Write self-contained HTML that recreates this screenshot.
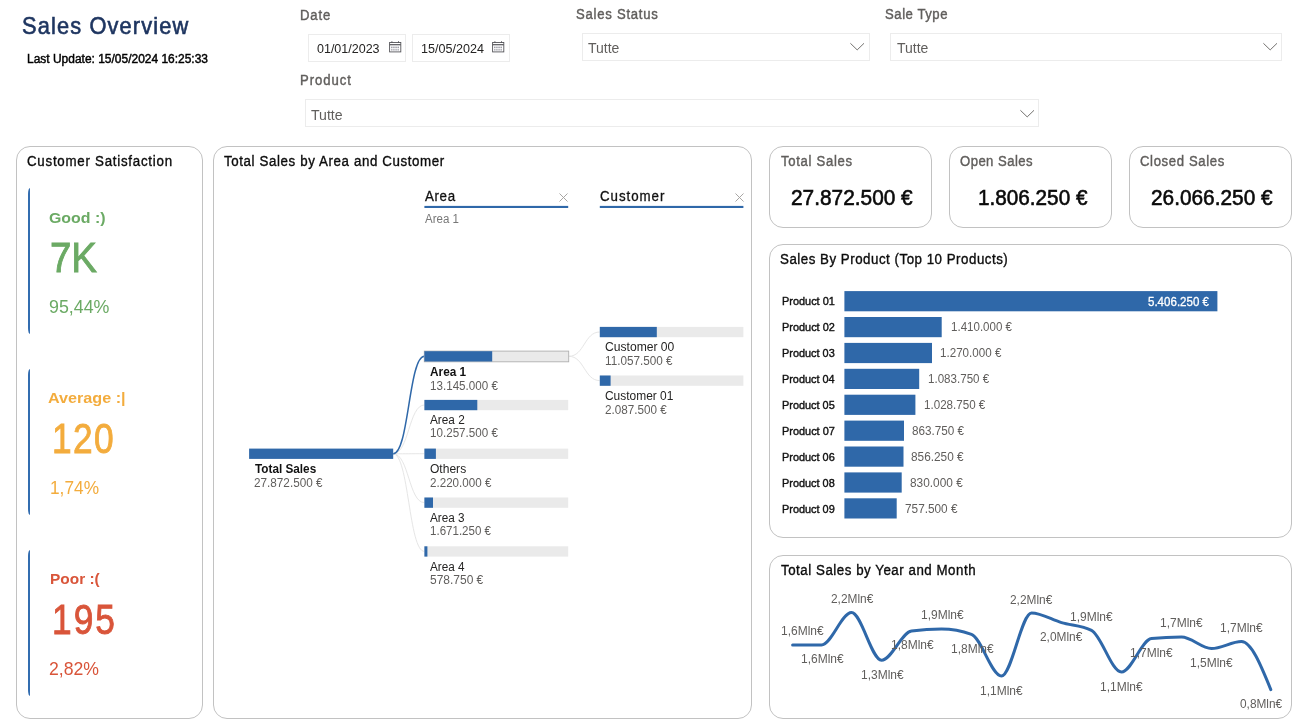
<!DOCTYPE html>
<html lang="it">
<head>
<meta charset="utf-8">
<title>Sales Overview</title>
<style>
  html,body{margin:0;padding:0;background:#fff;}
  body{width:1301px;height:725px;overflow:hidden;position:relative;font-family:"Liberation Sans",Arial,sans-serif;}
  #page{position:absolute;left:0;top:0;width:1301px;height:725px;overflow:hidden;background:#fff;}
  .t{position:absolute;white-space:nowrap;line-height:1;transform-origin:0 0;margin:0;padding:0;font-weight:400;}
  .panel{position:absolute;box-sizing:border-box;border:1px solid #C2C2C2;border-radius:14px;background:#fff;}
  .fbox{position:absolute;box-sizing:border-box;border:1px solid #ECECEC;background:#fff;}
  .ico{position:absolute;overflow:visible;}
  .acc{position:absolute;width:2px;background:#336DB0;border-radius:2px 0 0 2px / 6px 0 0 6px;}
  svg.lay{position:absolute;left:0;top:0;overflow:visible;pointer-events:none;}
</style>
</head>
<body>
<div id="page">
  <header>
    <span class="t" style="left:21.90px;top:14.70px;font-size:23.2px;color:#1E3560;letter-spacing:1.216px;-webkit-text-stroke:0.6px #1E3560;transform:scaleX(0.9400);">Sales Overview</span>
    <span class="t" style="left:27.46px;top:52.80px;font-size:12.5px;color:#000;-webkit-text-stroke:0.45px #000;transform:scaleX(0.9575);">Last Update: 15/05/2024 16:25:33</span>
  </header>
  <section class="filters">
    <div class="fbox" style="left:308px;top:34px;width:98px;height:28px;"></div>
    <div class="fbox" style="left:412px;top:34px;width:98px;height:28px;"></div>
    <div class="fbox" style="left:582px;top:33px;width:288px;height:28px;"></div>
    <div class="fbox" style="left:890px;top:33px;width:392px;height:28px;"></div>
    <div class="fbox" style="left:305px;top:99px;width:734px;height:28px;"></div>
    <svg class="ico" style="left:388.6px;top:40.7px" width="13" height="12" viewBox="0 0 13 12"><g fill="none" stroke="#55555A" stroke-width="0.9"><rect x="0.6" y="1.5" width="11.2" height="9.4"/><path d="M0.6 3.7h11.2" stroke-width="1.2"/><path d="M2.9 0.3v1.6M9.5 0.3v1.6" stroke-width="1"/></g><g fill="#7A7A86"><rect x="2.3" y="5.6" width="1.1" height="1.6"/><rect x="4.4" y="5.6" width="1.1" height="1.6"/><rect x="6.5" y="5.6" width="1.1" height="1.6"/><rect x="8.6" y="5.6" width="1.1" height="1.6"/><rect x="2.3" y="8.2" width="1.1" height="1.3"/><rect x="4.4" y="8.2" width="1.1" height="1.3"/><rect x="6.5" y="8.2" width="1.1" height="1.3"/><rect x="8.6" y="8.2" width="1.1" height="1.3"/></g></svg>
    <svg class="ico" style="left:492.2px;top:40.7px" width="13" height="12" viewBox="0 0 13 12"><g fill="none" stroke="#55555A" stroke-width="0.9"><rect x="0.6" y="1.5" width="11.2" height="9.4"/><path d="M0.6 3.7h11.2" stroke-width="1.2"/><path d="M2.9 0.3v1.6M9.5 0.3v1.6" stroke-width="1"/></g><g fill="#7A7A86"><rect x="2.3" y="5.6" width="1.1" height="1.6"/><rect x="4.4" y="5.6" width="1.1" height="1.6"/><rect x="6.5" y="5.6" width="1.1" height="1.6"/><rect x="8.6" y="5.6" width="1.1" height="1.6"/><rect x="2.3" y="8.2" width="1.1" height="1.3"/><rect x="4.4" y="8.2" width="1.1" height="1.3"/><rect x="6.5" y="8.2" width="1.1" height="1.3"/><rect x="8.6" y="8.2" width="1.1" height="1.3"/></g></svg>
    <svg class="ico" style="left:850px;top:43px" width="15" height="8" viewBox="0 0 15 8"><path d="M0.4 0.3L7.2 6.9L14 0.3" fill="none" stroke="#6B6967" stroke-width="0.95"/></svg>
    <svg class="ico" style="left:1262.6px;top:43px" width="15" height="8" viewBox="0 0 15 8"><path d="M0.4 0.3L7.2 6.9L14 0.3" fill="none" stroke="#6B6967" stroke-width="0.95"/></svg>
    <svg class="ico" style="left:1019.6px;top:109.6px" width="15" height="8" viewBox="0 0 15 8"><path d="M0.4 0.3L7.2 6.9L14 0.3" fill="none" stroke="#6B6967" stroke-width="0.95"/></svg>
    <span class="t" style="left:299.77px;top:9.00px;font-size:13.8px;color:#605E5C;letter-spacing:0.871px;-webkit-text-stroke:0.4px #605E5C;transform:scaleX(0.9500);">Date</span>
    <span class="t" style="left:576.38px;top:8.20px;font-size:13.8px;color:#605E5C;letter-spacing:0.788px;-webkit-text-stroke:0.4px #605E5C;transform:scaleX(0.9500);">Sales Status</span>
    <span class="t" style="left:885.18px;top:8.20px;font-size:13.8px;color:#605E5C;letter-spacing:0.586px;-webkit-text-stroke:0.4px #605E5C;transform:scaleX(0.9500);">Sale Type</span>
    <span class="t" style="left:299.77px;top:74.00px;font-size:13.8px;color:#605E5C;letter-spacing:1.021px;-webkit-text-stroke:0.4px #605E5C;transform:scaleX(0.9500);">Product</span>
    <span class="t" style="left:317.15px;top:42.90px;font-size:12.5px;color:#252423;transform:scaleX(0.9999);">01/01/2023</span>
    <span class="t" style="left:420.64px;top:42.90px;font-size:12.5px;color:#252423;transform:scaleX(1.0056);">15/05/2024</span>
    <span class="t" style="left:587.78px;top:41.00px;font-size:14.5px;color:#605E5C;transform:scaleX(0.9656);">Tutte</span>
    <span class="t" style="left:896.78px;top:41.00px;font-size:14.5px;color:#605E5C;transform:scaleX(0.9656);">Tutte</span>
    <span class="t" style="left:311.38px;top:108.00px;font-size:14.5px;color:#605E5C;transform:scaleX(0.9719);">Tutte</span>
  </section>
  <section class="panel" style="left:16px;top:146px;width:187px;height:573px;"></section>
  <div class="acc" style="left:28px;top:188px;height:146px"></div>
  <div class="acc" style="left:28px;top:369px;height:146px"></div>
  <div class="acc" style="left:28px;top:550px;height:146px"></div>
  <div class="cards">
    <span class="t" style="left:27.14px;top:154.00px;font-size:14px;color:#0C0C0C;letter-spacing:0.786px;-webkit-text-stroke:0.35px #0C0C0C;transform:scaleX(0.9500);">Customer Satisfaction</span>
    <span class="t" style="left:48.70px;top:210.10px;font-size:15.5px;color:#6BAA64;font-weight:700;transform:scaleX(1.0251);">Good :)</span>
    <span class="t" style="left:49.81px;top:237.30px;font-size:42px;color:#6BAA64;-webkit-text-stroke:0.9px #6BAA64;transform:scaleX(0.9147);">7K</span>
    <span class="t" style="left:48.86px;top:297.20px;font-size:19px;color:#6BAA64;transform:scaleX(0.9383);">95,44%</span>
    <span class="t" style="left:48.15px;top:389.50px;font-size:15.5px;color:#F3AC3D;font-weight:700;transform:scaleX(1.0435);">Average :|</span>
    <span class="t" style="left:51.57px;top:417.90px;font-size:42px;color:#F3AC3D;letter-spacing:1.586px;-webkit-text-stroke:0.9px #F3AC3D;transform:scaleX(0.8400);">120</span>
    <span class="t" style="left:49.92px;top:478.00px;font-size:19px;color:#F3AC3D;transform:scaleX(0.9094);">1,74%</span>
    <span class="t" style="left:49.54px;top:570.60px;font-size:15.5px;color:#D9553A;font-weight:700;transform:scaleX(0.9952);">Poor :(</span>
    <span class="t" style="left:51.97px;top:598.80px;font-size:42px;color:#D9553A;letter-spacing:2.450px;-webkit-text-stroke:0.9px #D9553A;transform:scaleX(0.8400);">195</span>
    <span class="t" style="left:49.27px;top:659.00px;font-size:19px;color:#D9553A;transform:scaleX(0.9291);">2,82%</span>
  </div>
  <section class="panel" style="left:213px;top:146px;width:539px;height:573px;"></section>
  <svg class="lay" width="1301" height="725" viewBox="0 0 1301 725">
    <path d="M393.2,453.8C408.8,453.8 408.8,405 424.4,405" fill="none" stroke="#E6E6E6" stroke-width="1"/>
    <path d="M393.2,453.8C408.8,453.8 408.8,453.7 424.4,453.7" fill="none" stroke="#E6E6E6" stroke-width="1"/>
    <path d="M393.2,453.8C408.8,453.8 408.8,502.6 424.4,502.6" fill="none" stroke="#E6E6E6" stroke-width="1"/>
    <path d="M393.2,453.8C408.8,453.8 408.8,551.4 424.4,551.4" fill="none" stroke="#E6E6E6" stroke-width="1"/>
    <path d="M568.8,356.3C584.3,356.3 584.3,332 599.8,332" fill="none" stroke="#E6E6E6" stroke-width="1"/>
    <path d="M568.8,356.3C584.3,356.3 584.3,380.6 599.8,380.6" fill="none" stroke="#E6E6E6" stroke-width="1"/>
    <path d="M393.2,453.8C408.8,453.8 408.8,356.3 424.4,356.3" fill="none" stroke="#2F68A9" stroke-width="1.5"/>
    <rect x="249.1" y="448.6" width="144.1" height="10.3" fill="#2F68A9"/>
    <rect x="424.29999999999995" y="351.09999999999997" width="144.4" height="10.700000000000001" fill="#EAEAEA" stroke="#B0B0B0" stroke-width="0.9"/>
    <rect x="424.4" y="351.2" width="67.8" height="10.3" fill="#2F68A9"/>
    <rect x="424.4" y="399.9" width="143.8" height="10.3" fill="#EAEAEA"/>
    <rect x="424.4" y="399.9" width="52.9" height="10.3" fill="#2F68A9"/>
    <rect x="424.4" y="448.6" width="143.8" height="10.3" fill="#EAEAEA"/>
    <rect x="424.4" y="448.6" width="11.5" height="10.3" fill="#2F68A9"/>
    <rect x="424.4" y="497.5" width="143.8" height="10.3" fill="#EAEAEA"/>
    <rect x="424.4" y="497.5" width="8.6" height="10.3" fill="#2F68A9"/>
    <rect x="424.4" y="546.3" width="143.8" height="10.3" fill="#EAEAEA"/>
    <rect x="424.4" y="546.3" width="3.0" height="10.3" fill="#2F68A9"/>
    <rect x="599.8" y="326.9" width="143.6" height="10.3" fill="#EAEAEA"/>
    <rect x="599.8" y="326.9" width="57.0" height="10.3" fill="#2F68A9"/>
    <rect x="599.8" y="375.5" width="143.6" height="10.3" fill="#EAEAEA"/>
    <rect x="599.8" y="375.5" width="10.8" height="10.3" fill="#2F68A9"/>
    <rect x="424.4" y="205.9" width="143.8" height="2.1" fill="#2F68A9"/>
    <rect x="599.8" y="205.9" width="143.6" height="2.1" fill="#2F68A9"/>
  </svg>
  <svg class="ico" style="left:559px;top:193px" width="9" height="9" viewBox="0 0 9 9"><path d="M0.5 0.5L8.5 8.5M8.5 0.5L0.5 8.5" fill="none" stroke="#A3A19F" stroke-width="0.95"/></svg>
  <svg class="ico" style="left:734.8px;top:193px" width="9" height="9" viewBox="0 0 9 9"><path d="M0.5 0.5L8.5 8.5M8.5 0.5L0.5 8.5" fill="none" stroke="#A3A19F" stroke-width="0.95"/></svg>
  <div class="tree">
    <span class="t" style="left:223.96px;top:154.00px;font-size:14px;color:#0C0C0C;letter-spacing:0.649px;-webkit-text-stroke:0.35px #0C0C0C;transform:scaleX(0.9500);">Total Sales by Area and Customer</span>
    <span class="t" style="left:424.74px;top:189.00px;font-size:14px;color:#111;letter-spacing:0.680px;-webkit-text-stroke:0.3px #111;transform:scaleX(0.9500);">Area</span>
    <span class="t" style="left:599.52px;top:189.00px;font-size:14px;color:#111;letter-spacing:1.016px;-webkit-text-stroke:0.3px #111;transform:scaleX(0.9500);">Customer</span>
    <span class="t" style="left:424.60px;top:213.00px;font-size:12px;color:#777;transform:scaleX(0.9603);">Area 1</span>
    <span class="t" style="left:254.60px;top:462.80px;font-size:12px;color:#111;font-weight:700;transform:scaleX(0.9791);">Total Sales</span>
    <span class="t" style="left:254.31px;top:476.60px;font-size:12px;color:#605E5C;transform:scaleX(0.9778);">27.872.500 €</span>
    <span class="t" style="left:429.65px;top:365.60px;font-size:12px;color:#111;font-weight:700;transform:scaleX(0.9857);">Area 1</span>
    <span class="t" style="left:430.13px;top:379.80px;font-size:12px;color:#605E5C;transform:scaleX(0.9690);">13.145.000 €</span>
    <span class="t" style="left:429.90px;top:413.60px;font-size:12px;color:#252423;transform:scaleX(0.9833);">Area 2</span>
    <span class="t" style="left:430.13px;top:427.40px;font-size:12px;color:#605E5C;transform:scaleX(0.9690);">10.257.500 €</span>
    <span class="t" style="left:429.85px;top:462.80px;font-size:12px;color:#252423;transform:scaleX(1.0039);">Others</span>
    <span class="t" style="left:429.72px;top:476.60px;font-size:12px;color:#605E5C;transform:scaleX(0.9686);">2.220.000 €</span>
    <span class="t" style="left:430.00px;top:511.70px;font-size:12px;color:#252423;transform:scaleX(0.9790);">Area 3</span>
    <span class="t" style="left:430.13px;top:525.40px;font-size:12px;color:#605E5C;transform:scaleX(0.9620);">1.671.250 €</span>
    <span class="t" style="left:430.00px;top:560.50px;font-size:12px;color:#252423;transform:scaleX(0.9791);">Area 4</span>
    <span class="t" style="left:429.85px;top:574.30px;font-size:12px;color:#605E5C;transform:scaleX(0.9979);">578.750 €</span>
    <span class="t" style="left:604.69px;top:340.60px;font-size:12px;color:#252423;transform:scaleX(1.0093);">Customer 00</span>
    <span class="t" style="left:605.42px;top:354.80px;font-size:12px;color:#605E5C;transform:scaleX(0.9772);">11.057.500 €</span>
    <span class="t" style="left:604.70px;top:390.00px;font-size:12px;color:#252423;transform:scaleX(0.9952);">Customer 01</span>
    <span class="t" style="left:604.72px;top:403.80px;font-size:12px;color:#605E5C;transform:scaleX(0.9734);">2.087.500 €</span>
  </div>
  <section class="panel" style="left:769px;top:146px;width:163px;height:82px;"></section>
  <div class="kpi">
    <span class="t" style="left:780.59px;top:155.00px;font-size:13.8px;color:#605E5C;letter-spacing:0.727px;-webkit-text-stroke:0.4px #605E5C;transform:scaleX(0.9500);">Total Sales</span>
    <span class="t" style="left:791.20px;top:186.60px;font-size:22.5px;color:#0A0A0A;-webkit-text-stroke:0.6px #0A0A0A;transform:scaleX(0.9265);">27.872.500 €</span>
  </div>
  <section class="panel" style="left:949px;top:146px;width:163px;height:82px;"></section>
  <div class="kpi">
    <span class="t" style="left:960.18px;top:155.00px;font-size:13.8px;color:#605E5C;letter-spacing:0.472px;-webkit-text-stroke:0.4px #605E5C;transform:scaleX(0.9500);">Open Sales</span>
    <span class="t" style="left:977.78px;top:186.60px;font-size:22.5px;color:#0A0A0A;-webkit-text-stroke:0.6px #0A0A0A;transform:scaleX(0.9207);">1.806.250 €</span>
  </div>
  <section class="panel" style="left:1129px;top:146px;width:163px;height:82px;"></section>
  <div class="kpi">
    <span class="t" style="left:1139.98px;top:155.00px;font-size:13.8px;color:#605E5C;letter-spacing:0.670px;-webkit-text-stroke:0.4px #605E5C;transform:scaleX(0.9500);">Closed Sales</span>
    <span class="t" style="left:1151.10px;top:186.60px;font-size:22.5px;color:#0A0A0A;-webkit-text-stroke:0.6px #0A0A0A;transform:scaleX(0.9257);">26.066.250 €</span>
  </div>
  <section class="panel" style="left:769px;top:244px;width:523px;height:294px;"></section>
  <svg class="lay" width="1301" height="725" viewBox="0 0 1301 725">
    <rect x="844.4" y="291.1" width="373.0" height="20.2" fill="#2F68A9"/>
    <rect x="844.4" y="317.0" width="97.3" height="20.2" fill="#2F68A9"/>
    <rect x="844.4" y="342.9" width="87.6" height="20.2" fill="#2F68A9"/>
    <rect x="844.4" y="368.8" width="74.8" height="20.2" fill="#2F68A9"/>
    <rect x="844.4" y="394.7" width="71.0" height="20.2" fill="#2F68A9"/>
    <rect x="844.4" y="420.6" width="59.6" height="20.2" fill="#2F68A9"/>
    <rect x="844.4" y="446.5" width="59.1" height="20.2" fill="#2F68A9"/>
    <rect x="844.4" y="472.4" width="57.3" height="20.2" fill="#2F68A9"/>
    <rect x="844.4" y="498.3" width="52.3" height="20.2" fill="#2F68A9"/>
  </svg>
  <div class="barchart">
    <span class="t" style="left:780.35px;top:252.00px;font-size:14px;color:#0C0C0C;letter-spacing:0.545px;-webkit-text-stroke:0.35px #0C0C0C;transform:scaleX(0.9500);">Sales By Product (Top 10 Products)</span>
    <span class="t" style="left:782.14px;top:296.30px;font-size:11.5px;color:#111;-webkit-text-stroke:0.4px #111;transform:scaleX(0.9492);">Product 01</span>
    <span class="t" style="left:1147.91px;top:295.80px;font-size:12px;color:#fff;-webkit-text-stroke:0.3px #fff;transform:scaleX(0.9617);">5.406.250 €</span>
    <span class="t" style="left:782.14px;top:322.24px;font-size:11.5px;color:#111;-webkit-text-stroke:0.4px #111;transform:scaleX(0.9492);">Product 02</span>
    <span class="t" style="left:950.63px;top:320.70px;font-size:12px;color:#605E5C;transform:scaleX(0.9620);">1.410.000 €</span>
    <span class="t" style="left:782.14px;top:348.18px;font-size:11.5px;color:#111;-webkit-text-stroke:0.4px #111;transform:scaleX(0.9483);">Product 03</span>
    <span class="t" style="left:940.43px;top:346.70px;font-size:12px;color:#605E5C;transform:scaleX(0.9684);">1.270.000 €</span>
    <span class="t" style="left:782.14px;top:374.12px;font-size:11.5px;color:#111;-webkit-text-stroke:0.4px #111;transform:scaleX(0.9449);">Product 04</span>
    <span class="t" style="left:927.73px;top:372.70px;font-size:12px;color:#605E5C;transform:scaleX(0.9652);">1.083.750 €</span>
    <span class="t" style="left:782.14px;top:400.06px;font-size:11.5px;color:#111;-webkit-text-stroke:0.4px #111;transform:scaleX(0.9474);">Product 05</span>
    <span class="t" style="left:924.13px;top:398.70px;font-size:12px;color:#605E5C;transform:scaleX(0.9668);">1.028.750 €</span>
    <span class="t" style="left:782.14px;top:426.00px;font-size:11.5px;color:#111;-webkit-text-stroke:0.4px #111;transform:scaleX(0.9492);">Product 07</span>
    <span class="t" style="left:912.21px;top:424.70px;font-size:12px;color:#605E5C;transform:scaleX(0.9761);">863.750 €</span>
    <span class="t" style="left:782.14px;top:451.94px;font-size:11.5px;color:#111;-webkit-text-stroke:0.4px #111;transform:scaleX(0.9483);">Product 06</span>
    <span class="t" style="left:911.41px;top:450.70px;font-size:12px;color:#605E5C;transform:scaleX(0.9856);">856.250 €</span>
    <span class="t" style="left:782.14px;top:477.88px;font-size:11.5px;color:#111;-webkit-text-stroke:0.4px #111;transform:scaleX(0.9483);">Product 08</span>
    <span class="t" style="left:909.61px;top:476.70px;font-size:12px;color:#605E5C;transform:scaleX(0.9875);">830.000 €</span>
    <span class="t" style="left:782.14px;top:503.82px;font-size:11.5px;color:#111;-webkit-text-stroke:0.4px #111;transform:scaleX(0.9483);">Product 09</span>
    <span class="t" style="left:904.91px;top:502.70px;font-size:12px;color:#605E5C;transform:scaleX(0.9837);">757.500 €</span>
  </div>
  <section class="panel" style="left:769px;top:555px;width:523px;height:164px;"></section>
  <svg class="lay" width="1301" height="725" viewBox="0 0 1301 725"><path d="M792.6,644.9C802.2,644.9 811.9,644.9 821.5,644.9C831.5,644.9 841.5,612.6 851.5,612.6C861.5,612.6 871.5,660.2 881.5,660.2C891.5,660.2 901.5,632.3 911.5,631.0C921.5,629.7 931.5,629.0 941.5,629.0C951.5,629.0 961.5,630.8 971.5,634.4C981.5,638.0 991.5,676.0 1001.5,676.0C1011.5,676.0 1021.5,613.0 1031.5,613.0C1041.5,613.0 1051.5,619.7 1061.5,622.6C1071.5,625.5 1081.5,625.2 1091.5,630.3C1101.5,635.4 1111.5,672.0 1121.5,672.0C1131.5,672.0 1141.5,639.7 1151.5,638.6C1161.5,637.5 1171.5,637.0 1181.5,637.0C1191.5,637.0 1201.5,648.5 1211.5,648.5C1221.5,648.5 1231.5,641.6 1241.5,641.6C1251.3,641.6 1261.0,665.6 1270.8,689.6" fill="none" stroke="#2F68A9" stroke-width="3" stroke-linecap="round" stroke-linejoin="round"/></svg>
  <div class="linechart">
    <span class="t" style="left:780.56px;top:563.30px;font-size:14px;color:#0C0C0C;letter-spacing:0.560px;-webkit-text-stroke:0.35px #0C0C0C;transform:scaleX(0.9500);">Total Sales by Year and Month</span>
    <span class="t" style="left:781.00px;top:624.90px;font-size:12px;color:#605E5C;transform:scaleX(0.9984);">1,6Mln€</span>
    <span class="t" style="left:800.90px;top:653.00px;font-size:12px;color:#605E5C;transform:scaleX(0.9984);">1,6Mln€</span>
    <span class="t" style="left:830.51px;top:593.40px;font-size:12px;color:#605E5C;transform:scaleX(0.9912);">2,2Mln€</span>
    <span class="t" style="left:860.70px;top:669.10px;font-size:12px;color:#605E5C;transform:scaleX(0.9984);">1,3Mln€</span>
    <span class="t" style="left:890.50px;top:638.80px;font-size:12px;color:#605E5C;transform:scaleX(0.9984);">1,8Mln€</span>
    <span class="t" style="left:920.60px;top:609.00px;font-size:12px;color:#605E5C;transform:scaleX(0.9984);">1,9Mln€</span>
    <span class="t" style="left:950.60px;top:643.00px;font-size:12px;color:#605E5C;transform:scaleX(0.9984);">1,8Mln€</span>
    <span class="t" style="left:980.40px;top:685.00px;font-size:12px;color:#605E5C;transform:scaleX(0.9984);">1,1Mln€</span>
    <span class="t" style="left:1010.11px;top:594.00px;font-size:12px;color:#605E5C;transform:scaleX(0.9912);">2,2Mln€</span>
    <span class="t" style="left:1040.11px;top:630.60px;font-size:12px;color:#605E5C;transform:scaleX(0.9912);">2,0Mln€</span>
    <span class="t" style="left:1070.00px;top:611.00px;font-size:12px;color:#605E5C;transform:scaleX(0.9984);">1,9Mln€</span>
    <span class="t" style="left:1100.20px;top:681.00px;font-size:12px;color:#605E5C;transform:scaleX(0.9984);">1,1Mln€</span>
    <span class="t" style="left:1130.40px;top:646.70px;font-size:12px;color:#605E5C;transform:scaleX(0.9984);">1,7Mln€</span>
    <span class="t" style="left:1160.40px;top:617.00px;font-size:12px;color:#605E5C;transform:scaleX(0.9984);">1,7Mln€</span>
    <span class="t" style="left:1189.90px;top:656.70px;font-size:12px;color:#605E5C;transform:scaleX(0.9984);">1,5Mln€</span>
    <span class="t" style="left:1219.70px;top:622.00px;font-size:12px;color:#605E5C;transform:scaleX(0.9984);">1,7Mln€</span>
    <span class="t" style="left:1239.86px;top:697.70px;font-size:12px;color:#605E5C;transform:scaleX(0.9877);">0,8Mln€</span>
  </div>
</div>
</body>
</html>
